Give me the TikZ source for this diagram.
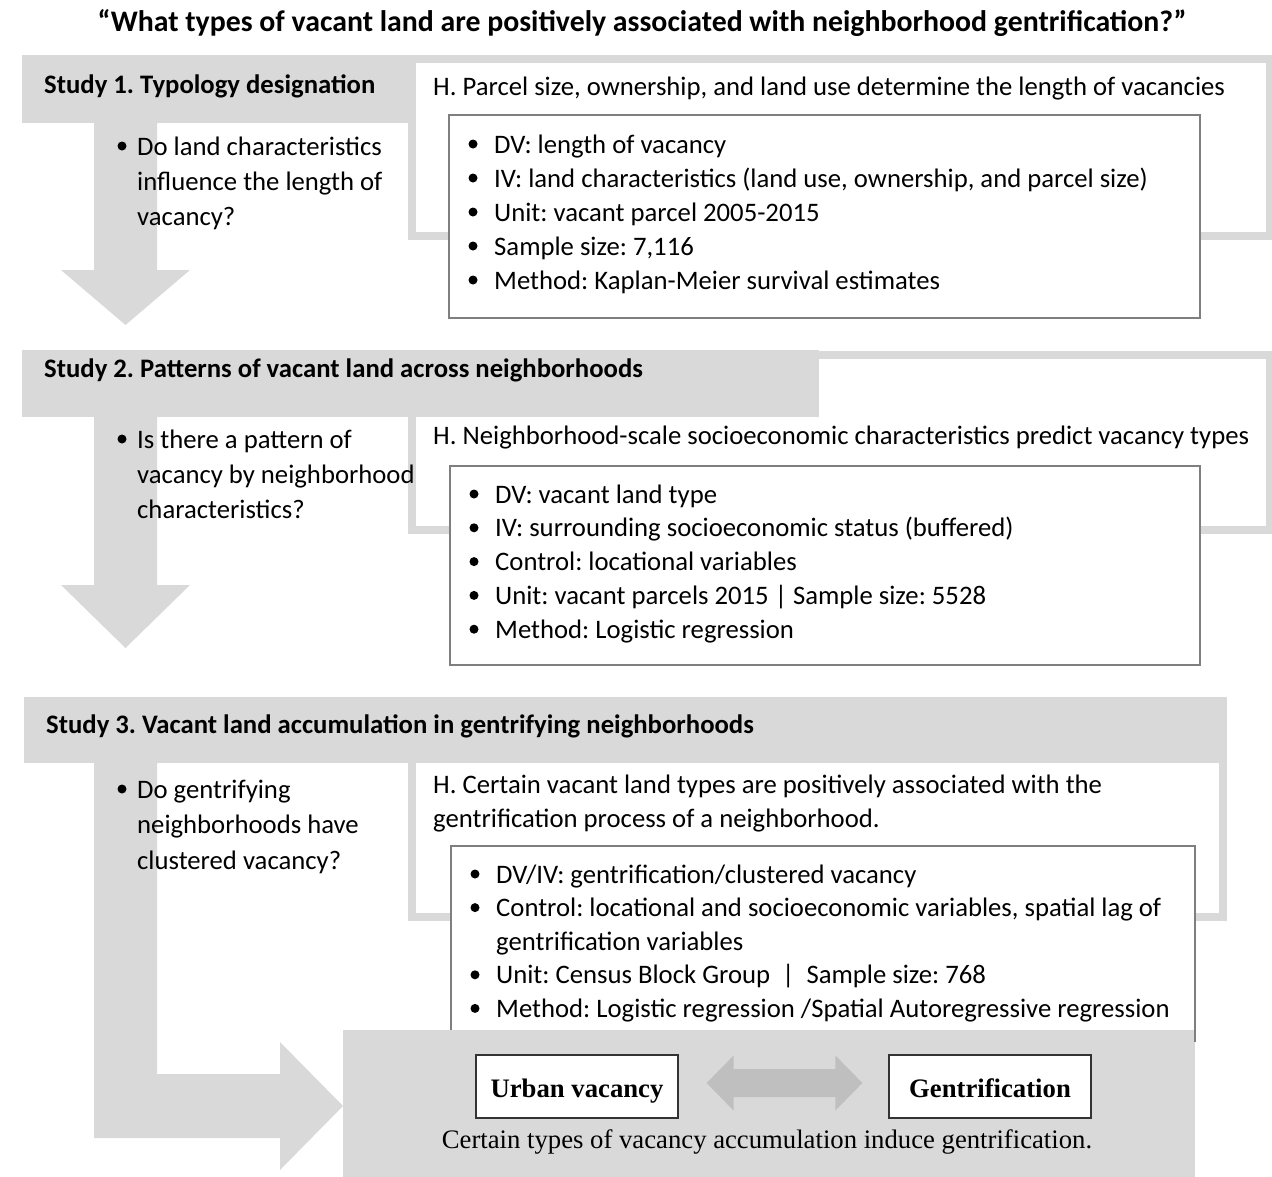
\documentclass[tikz,border=0pt]{standalone}
\usepackage{fontspec}
\setmainfont{Carlito}
\newfontfamily\serifrm{Liberation Serif}
\usetikzlibrary{calc}
\frenchspacing
\definecolor{band}{HTML}{D9D9D9}
\definecolor{boxline}{HTML}{7F7F7F}
\definecolor{twoway}{HTML}{BFBFBF}
\begin{document}
\begin{tikzpicture}[x=1pt,y=-1pt,
  txt/.style={anchor=base west,inner sep=0pt,font=\fontsize{26.7}{32}\selectfont},
  headtxt/.style={txt,font=\fontsize{26.7}{32}\selectfont\bfseries},
  listbox/.style={draw=boxline,line width=2pt,fill=white},
  concept/.style={draw=black!80,line width=1.2pt,fill=white,minimum width=202pt,minimum height=63pt,inner sep=0pt,text height=21pt,text depth=0pt,font=\serifrm\bfseries\fontsize{26.7}{30}\selectfont},
  dot/.style={fill=black}]
\useasboundingbox (0,0) rectangle (1272,1176);

% title
\node[anchor=base,inner sep=0pt,font=\fontsize{29.8}{34}\selectfont\bfseries] (title) at (642,31)
  {“What types of vacant land are positively associated with neighborhood gentrification?”};

% flow arrows between the studies
\fill[band] (94,110) -- (157,110) -- (157,270) -- (190,270) -- (125.5,325) -- (61,270) -- (94,270) -- cycle;
\fill[band] (94,400) -- (157,400) -- (157,585) -- (190,585) -- (125.5,648) -- (61,585) -- (94,585) -- cycle;
\fill[band] (94,750) -- (157,750) -- (157,1074) -- (280,1074) -- (280,1042) -- (343,1106) -- (280,1170) -- (280,1138) -- (94,1138) -- cycle;

% ---- Study 1 ----
\fill[band] (22,55) rectangle (420,123);
\fill[band] (408,55) rectangle (1276,240);
\fill[white] (416,63) rectangle (1266,232);
\draw[listbox] (449,115) rectangle (1200,318);
\node[headtxt] (s1) at (44,93) {Study 1. Typology designation};
\node[txt] (h1) at (433,95) {H. Parcel size, ownership, and land use determine the length of vacancies};
\foreach \t [count=\i] in {{Do land characteristics},{influence the length of},{vacancy?}}
  \node[txt] (q1-\i) at (137,{155+35*(\i-1)}) {\t};
\fill[dot] ($(q1-1.base west)+(-15,-9)$) circle[radius=4.5pt];
\foreach \t [count=\i] in {{DV: length of vacancy},{IV: land characteristics (land use, ownership, and parcel size)},{Unit: vacant parcel 2005-2015},{Sample size: 7,116},{Method: Kaplan-Meier survival estimates}}{
  \node[txt] (a1-\i) at (494,{153+34*(\i-1)}) {\t};
  \fill[dot] ($(a1-\i.base west)+(-21,-9)$) circle[radius=4.5pt];
}

% ---- Study 2 ----
\fill[band] (408,351) rectangle (1276,534);
\fill[white] (416,359) rectangle (1266,526);
\fill[band] (22,350) rectangle (819,417);
\draw[listbox] (450,466) rectangle (1200,665);
\node[headtxt] (s2) at (44,377) {Study 2. Patterns of vacant land across neighborhoods};
\node[txt] (h2) at (433,444) {H. Neighborhood-scale socioeconomic characteristics predict vacancy types};
\foreach \t [count=\i] in {{Is there a pattern of},{vacancy by neighborhood},{characteristics?}}
  \node[txt] (q2-\i) at (137,{448+35*(\i-1)}) {\t};
\fill[dot] ($(q2-1.base west)+(-15,-9)$) circle[radius=4.5pt];
\foreach \t [count=\i] in {{DV: vacant land type},{IV: surrounding socioeconomic status (buffered)},{Control: locational variables},{Unit: vacant parcels 2015 | Sample size: 5528},{Method: Logistic regression}}{
  \node[txt] (a2-\i) at (495,{503+33.8*(\i-1)}) {\t};
  \fill[dot] ($(a2-\i.base west)+(-21,-9)$) circle[radius=4.5pt];
}

% ---- Study 3 ----
\fill[band] (408,697) rectangle (1227,921);
\fill[white] (416,705) rectangle (1219,913);
\fill[band] (24,697) rectangle (1227,763);
\fill[white] (451,846) rectangle (1195,1030);
\node[headtxt] (s3) at (46,733) {Study 3. Vacant land accumulation in gentrifying neighborhoods};
\node[txt] (h3-1) at (433,793) {H. Certain vacant land types are positively associated with the};
\node[txt] (h3-2) at (433,827) {gentrification process of a neighborhood.};
\foreach \t [count=\i] in {{Do gentrifying},{neighborhoods have},{clustered vacancy?}}
  \node[txt] (q3-\i) at (137,{798+35.5*(\i-1)}) {\t};
\fill[dot] ($(q3-1.base west)+(-15,-9)$) circle[radius=4.5pt];
\foreach \t [count=\i] in {{DV/IV: gentrification/clustered vacancy},{Control: locational and socioeconomic variables, spatial lag of},{gentrification variables},{Unit: Census Block Group~~|~~Sample size: 768},{Method: Logistic regression /Spatial Autoregressive regression}}
  \node[txt] (a3-\i) at (496,{883+33.6*(\i-1)}) {\t};
\foreach \i in {1,2,4,5}
  \fill[dot] ($(a3-\i.base west)+(-21,-9)$) circle[radius=4.5pt];

% ---- outcome panel ----
\fill[band] (343,1030) rectangle (1195,1180);
\draw[boxline,line width=2pt] (451,1030) -- (451,846) -- (1195,846) -- (1195,1042);
\node[concept] (uv) at (577,1086.5) {Urban vacancy};
\node[concept] (gen) at (990,1086.5) {Gentrification};
\fill[twoway] ($(uv.east)+(28,-3.5)$) -- ++(27,-27.5) -- ++(0,13.5) -- ($(gen.west)+(-53,-17.5)$) -- ++(0,-13.5) -- ++(27,27.5)
  -- ++(-27,27.5) -- ++(0,-13.5) -- ($(uv.east)+(55,10.5)$) -- ++(0,13.5) -- cycle;
\node[anchor=base,inner sep=0pt,font=\serifrm\fontsize{26.7}{30}\selectfont] (cap) at (767,1148)
  {Certain types of vacancy accumulation induce gentrification.};
\end{tikzpicture}
\end{document}
